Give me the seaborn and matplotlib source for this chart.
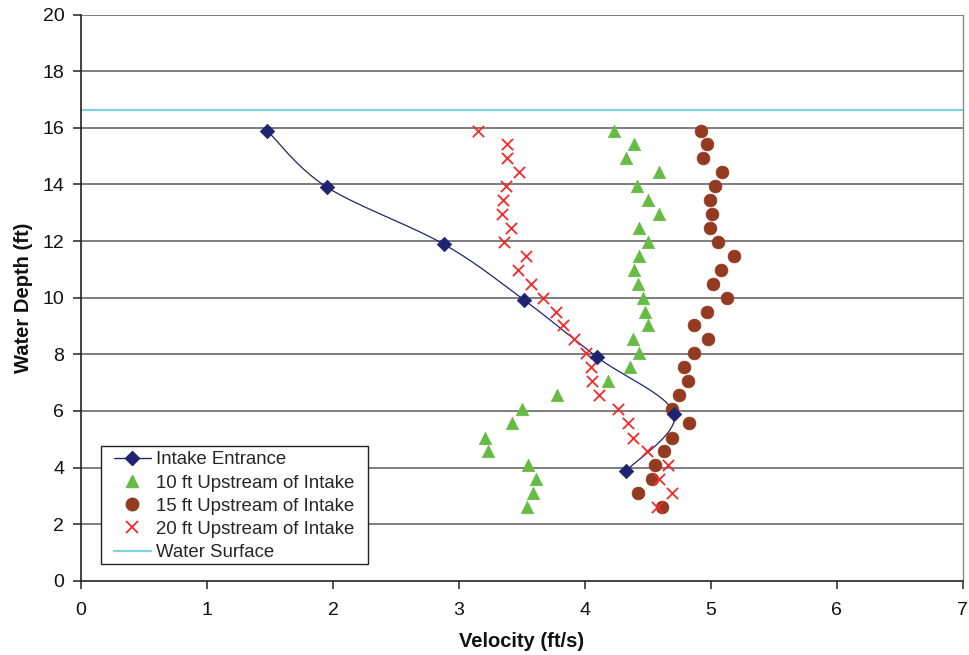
import numpy as np
import pandas as pd
import matplotlib
matplotlib.use("Agg")
import matplotlib.pyplot as plt
import seaborn as sns
from matplotlib.lines import Line2D
from matplotlib.patches import Rectangle

# ---------------- data ----------------
intake_depth = [15.89, 13.91, 11.89, 9.91, 7.89, 5.88, 3.89]
intake_vel = [1.48, 1.95, 2.88, 3.52, 4.10, 4.71, 4.33]

depths = [15.90, 15.42, 14.93, 14.44, 13.95, 13.45, 12.97, 12.47, 11.96, 11.48,
          10.99, 10.50, 9.99, 9.51, 9.04, 8.53, 8.04, 7.54, 7.04, 6.55,
          6.05, 5.56, 5.06, 4.57, 4.10, 3.59, 3.10, 2.62]

vel_10ft = [4.23, 4.39, 4.33, 4.59, 4.41, 4.50, 4.59, 4.43, 4.50, 4.43,
            4.39, 4.42, 4.46, 4.48, 4.50, 4.38, 4.43, 4.36, 4.18, 3.78,
            3.50, 3.42, 3.21, 3.23, 3.55, 3.61, 3.59, 3.54]

vel_15ft = [4.92, 4.97, 4.94, 5.09, 5.03, 4.99, 5.01, 4.99, 5.06, 5.18,
            5.08, 5.02, 5.13, 4.97, 4.87, 4.98, 4.87, 4.79, 4.82, 4.75,
            4.69, 4.83, 4.69, 4.63, 4.56, 4.53, 4.42, 4.61]

vel_20ft = [3.15, 3.38, 3.38, 3.48, 3.37, 3.35, 3.34, 3.41, 3.36, 3.53,
            3.47, 3.57, 3.67, 3.77, 3.83, 3.91, 4.01, 4.05, 4.06, 4.11,
            4.26, 4.34, 4.38, 4.49, 4.66, 4.59, 4.69, 4.57]

water_surface = 16.63

x_ticks = [0, 1, 2, 3, 4, 5, 6, 7]
y_ticks = [0, 2, 4, 6, 8, 10, 12, 14, 16, 18, 20]

labels = ["Intake Entrance", "10 ft Upstream of Intake", "15 ft Upstream of Intake",
          "20 ft Upstream of Intake", "Water Surface"]

c_navy = "#1f2470"
c_green = "#66bb44"
c_brown = "#943a20"
c_red = "#f42a2a"
c_cyan = "#7fd3df"


def smooth_curve(xs, ys, n=30):
    # Excel-style smoothed line: Catmull-Rom Bezier through the points
    P = np.column_stack([xs, ys]).astype(float)
    m = len(P)
    out = []
    for i in range(m - 1):
        p0 = P[i - 1] if i > 0 else P[i]
        p1 = P[i]
        p2 = P[i + 1]
        p3 = P[i + 2] if i + 2 < m else P[i + 1]
        c1 = p1 + (p2 - p0) / 6.0
        c2 = p2 - (p3 - p1) / 6.0
        t = np.linspace(0, 1, n)[:, None]
        seg = ((1 - t) ** 3) * p1 + 3 * ((1 - t) ** 2) * t * c1 + 3 * (1 - t) * t ** 2 * c2 + t ** 3 * p2
        if i > 0:
            seg = seg[1:]
        out.append(seg)
    out = np.vstack(out)
    return out[:, 0], out[:, 1]


sns.set_theme(style="white")
plt.rcParams["font.family"] = ["Liberation Sans", "DejaVu Sans"]

fig = plt.figure(figsize=(9.69, 6.55), dpi=100)
ax = fig.add_axes([0.0836, 0.1134, 0.9100, 0.8642])

# grid lines
for yv in y_ticks[1:]:
    ax.axhline(yv, color="#5a5a5a", lw=1.1, zorder=0)

# water surface
ax.axhline(water_surface, color=c_cyan, lw=1.6, zorder=1)

# smoothed intake line
sx, sy = smooth_curve(intake_vel, intake_depth)
sns.lineplot(x=sx, y=sy, sort=False, estimator=None, ax=ax, color=c_navy, lw=0.9, zorder=2)
sns.scatterplot(x=intake_vel, y=intake_depth, ax=ax, marker="D", color=c_navy, s=55,
                edgecolor=c_navy, linewidth=0.5, zorder=5)

sns.scatterplot(x=vel_10ft, y=depths, ax=ax, marker="^", color=c_green, s=80,
                edgecolor=c_green, linewidth=0.5, zorder=3)
sns.scatterplot(x=vel_15ft, y=depths, ax=ax, marker="o", color=c_brown, s=85,
                edgecolor=c_brown, linewidth=0.5, zorder=3)
sns.scatterplot(x=vel_20ft, y=depths, ax=ax, marker="x", color=c_red, s=65,
                linewidth=1.3, zorder=4)

ax.set_xlim(0, 7)
ax.set_ylim(0, 20)
ax.set_xticks(x_ticks)
ax.set_yticks(y_ticks)
ax.set_xticklabels([str(v) for v in x_ticks])
ax.set_yticklabels([str(v) for v in y_ticks])

ax.tick_params(axis="both", which="major", direction="out", length=6, width=1.1,
               color="#222222", labelsize=14, labelcolor="#111111",
               bottom=True, left=True)
ax.tick_params(axis="x", pad=9)
ax.tick_params(axis="y", pad=6)

for side in ["left", "bottom"]:
    ax.spines[side].set_color("#222222")
    ax.spines[side].set_linewidth(1.2)
ax.spines["right"].set_color("#8a8a8a")
ax.spines["right"].set_linewidth(1.0)
ax.spines["top"].set_visible(False)

ax.set_xlabel("Velocity (ft/s)", fontsize=14.5, fontweight="bold", color="#111111", labelpad=10)
ax.set_ylabel("Water Depth (ft)", fontsize=14.5, fontweight="bold", color="#111111", labelpad=7)

# legend box (drawn as a frame behind the legend entries)
W, H = 882.0, 565.7
ax.add_patch(Rectangle((20 / W, 16.7 / H), 267 / W, 118 / H, transform=ax.transAxes,
                       facecolor="white", edgecolor="#222222", lw=1.0, zorder=4.6))

handles = [
    Line2D([0], [0], color=c_navy, lw=1.0, marker="D", markersize=7),
    Line2D([0], [0], color=c_green, lw=0, marker="^", markersize=9),
    Line2D([0], [0], color=c_brown, lw=0, marker="o", markersize=9),
    Line2D([0], [0], color=c_red, lw=0, marker="x", markersize=8, markeredgewidth=1.3),
    Line2D([0], [0], color=c_cyan, lw=1.6),
]
leg = ax.legend(handles, labels, loc="lower left", bbox_to_anchor=(27 / W, 14.0 / H),
                fontsize=13.4, frameon=False, borderpad=0.3, labelspacing=0.33,
                handlelength=2.0, handletextpad=0.3, borderaxespad=0.0)
leg.set_zorder(5)

fig.savefig("out.png", dpi=100, facecolor="white")
